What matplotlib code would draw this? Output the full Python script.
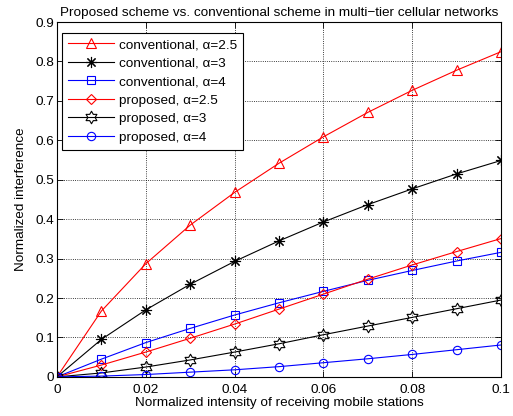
import numpy as np
import matplotlib
matplotlib.use('Agg')
import matplotlib.pyplot as plt
from matplotlib.path import Path

plt.rcParams['font.family'] = ['Liberation Sans', 'DejaVu Sans']

# Data
x = [0, 0.01, 0.02, 0.03, 0.04, 0.05, 0.06, 0.07, 0.08, 0.09, 0.1]
conv_25 = [0, 0.167, 0.287, 0.385, 0.468, 0.542, 0.609, 0.671, 0.727, 0.778, 0.825]
conv_3 = [0, 0.095, 0.170, 0.235, 0.293, 0.345, 0.393, 0.437, 0.477, 0.515, 0.549]
conv_4 = [0, 0.045, 0.087, 0.123, 0.157, 0.188, 0.217, 0.245, 0.270, 0.294, 0.316]
prop_25 = [0, 0.030, 0.063, 0.098, 0.134, 0.172, 0.210, 0.248, 0.284, 0.318, 0.351]
prop_3 = [0, 0.010, 0.025, 0.043, 0.063, 0.084, 0.107, 0.129, 0.151, 0.173, 0.195]
prop_4 = [0, 0.002, 0.006, 0.012, 0.018, 0.026, 0.036, 0.046, 0.057, 0.069, 0.081]

xticks = [0, 0.02, 0.04, 0.06, 0.08, 0.1]
xticklabels = ['0', '0.02', '0.04', '0.06', '0.08', '0.1']
yticks = [0, 0.1, 0.2, 0.3, 0.4, 0.5, 0.6, 0.7, 0.8, 0.9]
yticklabels = ['0', '0.1', '0.2', '0.3', '0.4', '0.5', '0.6', '0.7', '0.8', '0.9']

# hexagram marker (MATLAB 'h')
ang = np.pi / 2 + np.arange(12) * np.pi / 6
rad = np.where(np.arange(12) % 2 == 0, 1.0, 1 / np.sqrt(3))
verts = np.column_stack([rad * np.cos(ang), rad * np.sin(ang)])
verts = np.vstack([verts, verts[:1]])
hexagram = Path(verts, [Path.MOVETO] + [Path.LINETO] * 11 + [Path.CLOSEPOLY])

fs = 9.7

fig = plt.figure(figsize=(5.13, 4.16), dpi=100)
ax = fig.add_axes([0.111, 0.094, 0.866, 0.853])

kw = dict(lw=0.8, mfc='none', mew=0.8)
ax.plot(x, conv_25, color='red', marker='^', ms=7, label='conventional, α=2.5', **kw)
ax.plot(x, conv_3, color='black', marker=(8, 2, 0), ms=8, label='conventional, α=3', **kw)
ax.plot(x, conv_4, color='blue', marker='s', ms=5.5, label='conventional, α=4', **kw)
ax.plot(x, prop_25, color='red', marker='D', ms=5, label='proposed, α=2.5', **kw)
ax.plot(x, prop_3, color='black', marker=hexagram, ms=9, label='proposed, α=3', **kw)
ax.plot(x, prop_4, color='blue', marker='o', ms=6, label='proposed, α=4', **kw)

ax.set_xlim(0, 0.1)
ax.set_ylim(0, 0.9)
ax.set_xticks(xticks)
ax.set_xticklabels(xticklabels)
ax.set_yticks(yticks)
ax.set_yticklabels(yticklabels)
ax.tick_params(direction='in', labelsize=fs, length=4, top=True, right=True, width=0.6)
ax.tick_params(axis='x', pad=5)
ax.tick_params(axis='y', pad=2)
ax.grid(True, linestyle=':', color='black', linewidth=0.6)
for s in ax.spines.values():
    s.set_linewidth(0.8)

ax.set_xlabel('Normalized intensity of receiving mobile stations', fontsize=fs, labelpad=1)
ax.set_ylabel('Normalized interference', fontsize=fs, labelpad=6)
ax.set_title('Proposed scheme vs. conventional scheme in multi\u2212tier cellular networks',
             fontsize=fs, pad=4)

leg = ax.legend(loc='upper left', bbox_to_anchor=(0.012, 0.97), borderaxespad=0,
                fontsize=fs, fancybox=False, edgecolor='black', framealpha=1,
                handlelength=3.4, labelspacing=0.45, borderpad=0.45, handletextpad=0.35)
leg.get_frame().set_linewidth(0.8)

fig.savefig('out.png', dpi=100)
